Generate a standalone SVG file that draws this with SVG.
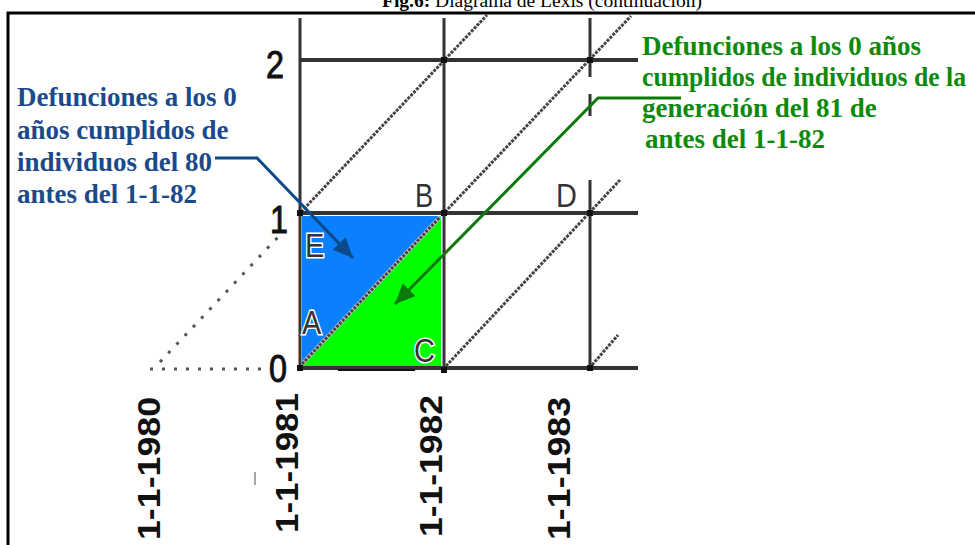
<svg xmlns="http://www.w3.org/2000/svg" width="975" height="545" viewBox="0 0 975 545">
<defs>
<style>
.grid{stroke:#333;fill:none}
.h{stroke-width:4}
.v{stroke-width:3}
.diag{stroke:#444;stroke-width:3;stroke-dasharray:3 1.2;fill:none}
.dot{fill:#111}
.dotted{stroke:#555;stroke-width:3;stroke-dasharray:3 9;fill:none}
.lbl{font-family:"Liberation Sans",Arial,sans-serif;font-size:34px;fill:#333;stroke:#fff;stroke-width:3;paint-order:stroke}
.num{font-family:"Liberation Sans",Arial,sans-serif;font-size:38px;fill:#111;stroke:#111;stroke-width:1}
.date{font-family:"Liberation Sans",Arial,sans-serif;font-size:32px;font-weight:bold;fill:#111}
.blue{font-family:"Liberation Serif","Times New Roman",serif;font-size:27px;font-weight:bold;fill:#1a4a8c}
.green{font-family:"Liberation Serif","Times New Roman",serif;font-size:27px;font-weight:bold;fill:#0d8a0d}
.title{font-family:"Liberation Serif","Times New Roman",serif;font-size:19.5px;fill:#000}
</style>
<marker id="arrBlue" markerUnits="userSpaceOnUse" markerWidth="22" markerHeight="18" refX="20" refY="9" orient="auto">
<path d="M0,0 L20,9 L0,18 Z" fill="#0d4a8a"/>
</marker>
<marker id="arrGreen" markerUnits="userSpaceOnUse" markerWidth="22" markerHeight="18" refX="20" refY="9" orient="auto">
<path d="M0,0 L20,9 L0,18 Z" fill="#0a7a0a"/>
</marker>
</defs>
<rect width="975" height="545" fill="#fff"/>
<g id="frame">
<path d="M8,548 V13 H975" fill="none" stroke="#000" stroke-width="3"/>
</g>
<g id="title">
<text class="title" x="382" y="7"><tspan font-weight="bold">Fig.6:</tspan> Diagrama de Lexis (continuación)</text>
</g>
<g id="regions">
<polygon points="302,216 441,216 302,366" fill="#0a80ff"/>
<polygon points="441,216 441,366 302,366" fill="#00ff00"/>
</g>
<g id="grid">
<line class="grid v" x1="300" y1="18" x2="300" y2="369"/>
<line class="grid v" x1="444" y1="18" x2="444" y2="372"/>
<line class="grid v" x1="590" y1="18" x2="590" y2="77"/>
<line class="grid v" x1="590" y1="94" x2="590" y2="116"/>
<line class="grid v" x1="590" y1="180" x2="590" y2="368"/>
<line class="grid h" x1="300" y1="60" x2="638" y2="60"/>
<line class="grid h" x1="300" y1="213" x2="638" y2="213"/>
<line class="grid h" x1="300" y1="368" x2="638" y2="368"/>
<line x1="338" y1="370" x2="415" y2="370" stroke="#111" stroke-width="2"/>
<line x1="302" y1="364" x2="440" y2="217" stroke="#ccc" stroke-width="4"/>
<line class="diag" x1="302" y1="364" x2="440" y2="217"/>
<line class="diag" x1="301" y1="212" x2="487" y2="15"/>
<line class="diag" x1="445" y1="212" x2="631" y2="16"/>
<line class="diag" x1="446" y1="366" x2="620" y2="180"/>
<line class="diag" x1="592" y1="365" x2="618" y2="335"/>
<line class="dotted" x1="150" y1="369" x2="268" y2="369"/>
<line class="dotted" x1="160" y1="362" x2="279" y2="236"/>
<line x1="255" y1="472" x2="255" y2="485" stroke="#888" stroke-width="1.5"/>
<rect class="dot" x="441" y="57" width="6" height="6"/>
<rect class="dot" x="587" y="57" width="6" height="6"/>
<rect class="dot" x="441" y="210" width="6" height="6"/>
<rect class="dot" x="587" y="210" width="6" height="6"/>
<rect class="dot" x="297" y="210" width="6" height="6"/>
<rect class="dot" x="297" y="365" width="6" height="6"/>
<rect class="dot" x="587" y="365" width="6" height="6"/>
<rect class="dot" x="441" y="367" width="6" height="6"/>
</g>
<g id="axis-labels">
<text class="num" transform="translate(266,78) scale(0.85,1)">2</text>
<text class="num" transform="translate(270,233) scale(0.85,1)">1</text>
<text class="num" transform="translate(269,382) scale(0.85,1)">0</text>
<text class="date" transform="translate(160,540) rotate(-90)" textLength="143" lengthAdjust="spacingAndGlyphs">1-1-1980</text>
<text class="date" transform="translate(298,533) rotate(-90)" textLength="140" lengthAdjust="spacingAndGlyphs">1-1-1981</text>
<text class="date" transform="translate(442,537) rotate(-90)" textLength="142" lengthAdjust="spacingAndGlyphs">1-1-1982</text>
<text class="date" transform="translate(570,540) rotate(-90)" textLength="143" lengthAdjust="spacingAndGlyphs">1-1-1983</text>
</g>
<g id="points">
<text class="lbl" transform="translate(415,207) scale(0.8,1)">B</text>
<text class="lbl" transform="translate(556,207) scale(0.85,1)">D</text>
<text class="lbl" transform="translate(305,257) scale(0.85,1)">E</text>
<text class="lbl" transform="translate(302,334) scale(0.85,1)">A</text>
<text class="lbl" transform="translate(414,362) scale(0.85,1)">C</text>
</g>
<g id="note-blue">
<text class="blue" x="17" y="106">Defunciones a los 0</text>
<text class="blue" x="17" y="139">años cumplidos de</text>
<text class="blue" x="17" y="171">individuos del 80</text>
<text class="blue" x="17" y="203">antes del 1-1-82</text>
</g>
<g id="note-green">
<text class="green" x="642" y="55">Defunciones a los 0 años</text>
<text class="green" x="642" y="86" textLength="324" lengthAdjust="spacingAndGlyphs">cumplidos de individuos de la</text>
<text class="green" x="642" y="117">generación del 81 de</text>
<text class="green" x="645" y="148">antes del 1-1-82</text>
</g>
<g id="connectors">
<path d="M215,158 H257 L353,258" fill="none" stroke="#0d4a8a" stroke-width="3" marker-end="url(#arrBlue)"/>
<path d="M681,98 H598 L395,304" fill="none" stroke="#0a7a0a" stroke-width="3" marker-end="url(#arrGreen)"/>
</g>
</svg>
